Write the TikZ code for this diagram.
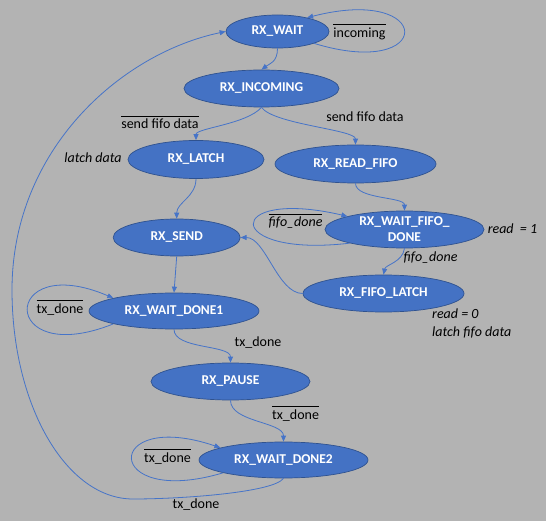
\documentclass[tikz,border=0pt]{standalone}
\usepackage{fontspec}
\setmainfont{Carlito}
\usepackage{xcolor}
\definecolor{bggray}{HTML}{B3B3B3}
\definecolor{statefill}{HTML}{4472C4}
\definecolor{stateedge}{HTML}{2F528F}
\definecolor{wire}{HTML}{4674C8}
\usepackage{tikz}
\usetikzlibrary{arrows.meta, shapes.geometric}
\newcommand{\inv}[1]{\leavevmode\vbox{\hrule height 0.9pt\kern 2.2pt\hbox{\vphantom{dl}#1}}}

\begin{document}
\begin{tikzpicture}[x=1pt, y=-1pt, font=\fontsize{14}{16}\selectfont,
  state/.style={ellipse, draw=stateedge, fill=statefill, text=white, inner sep=0pt, line width=0.7pt,
    align=center, font=\fontsize{13.5}{16}\selectfont\bfseries},
  trans/.style={draw=wire, line width=0.8pt, -{Triangle[length=6pt, width=5pt]}},
  cond/.style={anchor=base, inner sep=0pt}]
  \fill[bggray] (0,0) rectangle (546,521);
  \useasboundingbox (0,0) rectangle (546,521);

  \node[state, minimum width=103, minimum height=33] (wait)      at (277.5, 31.5) {RX\_WAIT};
  \node[state, minimum width=155, minimum height=37] (incoming)  at (261.5, 88.5) {RX\_INCOMING};
  \node[state, minimum width=136, minimum height=38] (latch)     at (196,  159.5) {RX\_LATCH};
  \node[state, minimum width=161, minimum height=38] (readfifo)  at (355.5, 164)  {RX\_READ\_FIFO};
  \node[state, minimum width=159, minimum height=37] (waitfifo)  at (404.5, 229.5) {RX\_WAIT\_FIFO\_\\DONE};
  \node[state, minimum width=127, minimum height=37] (send)      at (176.7, 237.5) {RX\_SEND};
  \node[state, minimum width=161, minimum height=37] (fifolatch) at (383.5, 293.5) {RX\_FIFO\_LATCH};
  \node[state, minimum width=170, minimum height=36] (waitdone1) at (174,  311)   {RX\_WAIT\_DONE1};
  \node[state, minimum width=159, minimum height=37] (pause)     at (230.5, 381.5) {RX\_PAUSE};
  \node[state, minimum width=169, minimum height=36] (waitdone2) at (283.5, 460)  {RX\_WAIT\_DONE2};

  \coordinate (lowturn)  at (133, 499);
  \coordinate (leftturn) at (12, 290);

  \draw[trans] (wait.-18) .. controls +(121,37) and +(128,-33) .. (wait.25);
  \draw[trans] (wait.south) .. controls +(0,14) and +(8,-6) .. (incoming.north);
  \draw[trans] (incoming.south) .. controls +(-15,17) and +(0,-12) .. (latch.north);
  \draw[trans] (incoming.south) .. controls +(12,17) and +(0,-15) .. (readfifo.north);
  \draw[trans] (latch.south) .. controls +(0,18) and +(0,-16) .. (send.north);
  \draw[trans] (readfifo.south) .. controls +(0,16) and +(0,-14) .. (waitfifo.north);
  \draw[trans] (waitfifo.194) .. controls +(-127.5,15) and +(-124.5,-29) .. (waitfifo.167);
  \draw[trans] (waitfifo.south) .. controls +(-2,14) and +(2,-10) .. (fifolatch.north);
  \draw[trans] (fifolatch.west) .. controls +(-25,0) and +(25,0) .. (send.east);
  \draw[trans] (send.south) -- (waitdone1.north);
  \draw[trans] (waitdone1.192) .. controls +(-115,46) and +(-113,-48.5) .. (waitdone1.168);
  \draw[trans] (waitdone1.south) .. controls +(0,20) and +(0,-18) .. (pause.north);
  \draw[trans] (pause.south) .. controls +(0,22) and +(0,-20) .. (waitdone2.north);
  \draw[trans] (waitdone2.192) .. controls +(-121,36) and +(-118,-40) .. (waitdone2.169);
  \draw[trans] (waitdone2.south) .. controls +(-10,14) and +(50,0) .. (lowturn)
    .. controls +(-67,0) and +(0,115) .. (leftturn)
    .. controls +(0,-140) and +(-105,22) .. (wait.west);

  \node[cond] (l-incoming) at (359.5, 37.3) {\inv{incoming}};
  \node[cond] (l-nosend)   at (160,  129)   {\inv{send fifo data}};
  \node[cond] (l-send)     at (365,  122)   {send fifo data};
  \node[cond] (l-latch)    at (93,   163)   {\itshape latch data};
  \node[cond] (l-nofifo)   at (295.5, 227)  {\inv{\itshape fifo\_done}};
  \node[cond] (l-readone)  at (512.5, 234)  {\itshape read \ = 1};
  \node[cond] (l-fifo)     at (430.5, 262)  {\itshape fifo\_done};
  \node[cond, anchor=base west] (l-readzero) at (432, 319) {\itshape read = 0};
  \node[cond, anchor=base west] (l-latchfifo) at (432, 336) {\itshape latch fifo data};
  \node[cond] (l-notx1)    at (60,   313)   {\inv{tx\_done}};
  \node[cond] (l-tx1)      at (258,  346)   {tx\_done};
  \node[cond] (l-notx2)    at (295.6, 419)  {\inv{tx\_done}};
  \node[cond] (l-notx3)    at (167.5, 462)  {\inv{tx\_done}};
  \node[cond] (l-tx2)      at (196,  508)   {tx\_done};
\end{tikzpicture}
\end{document}
